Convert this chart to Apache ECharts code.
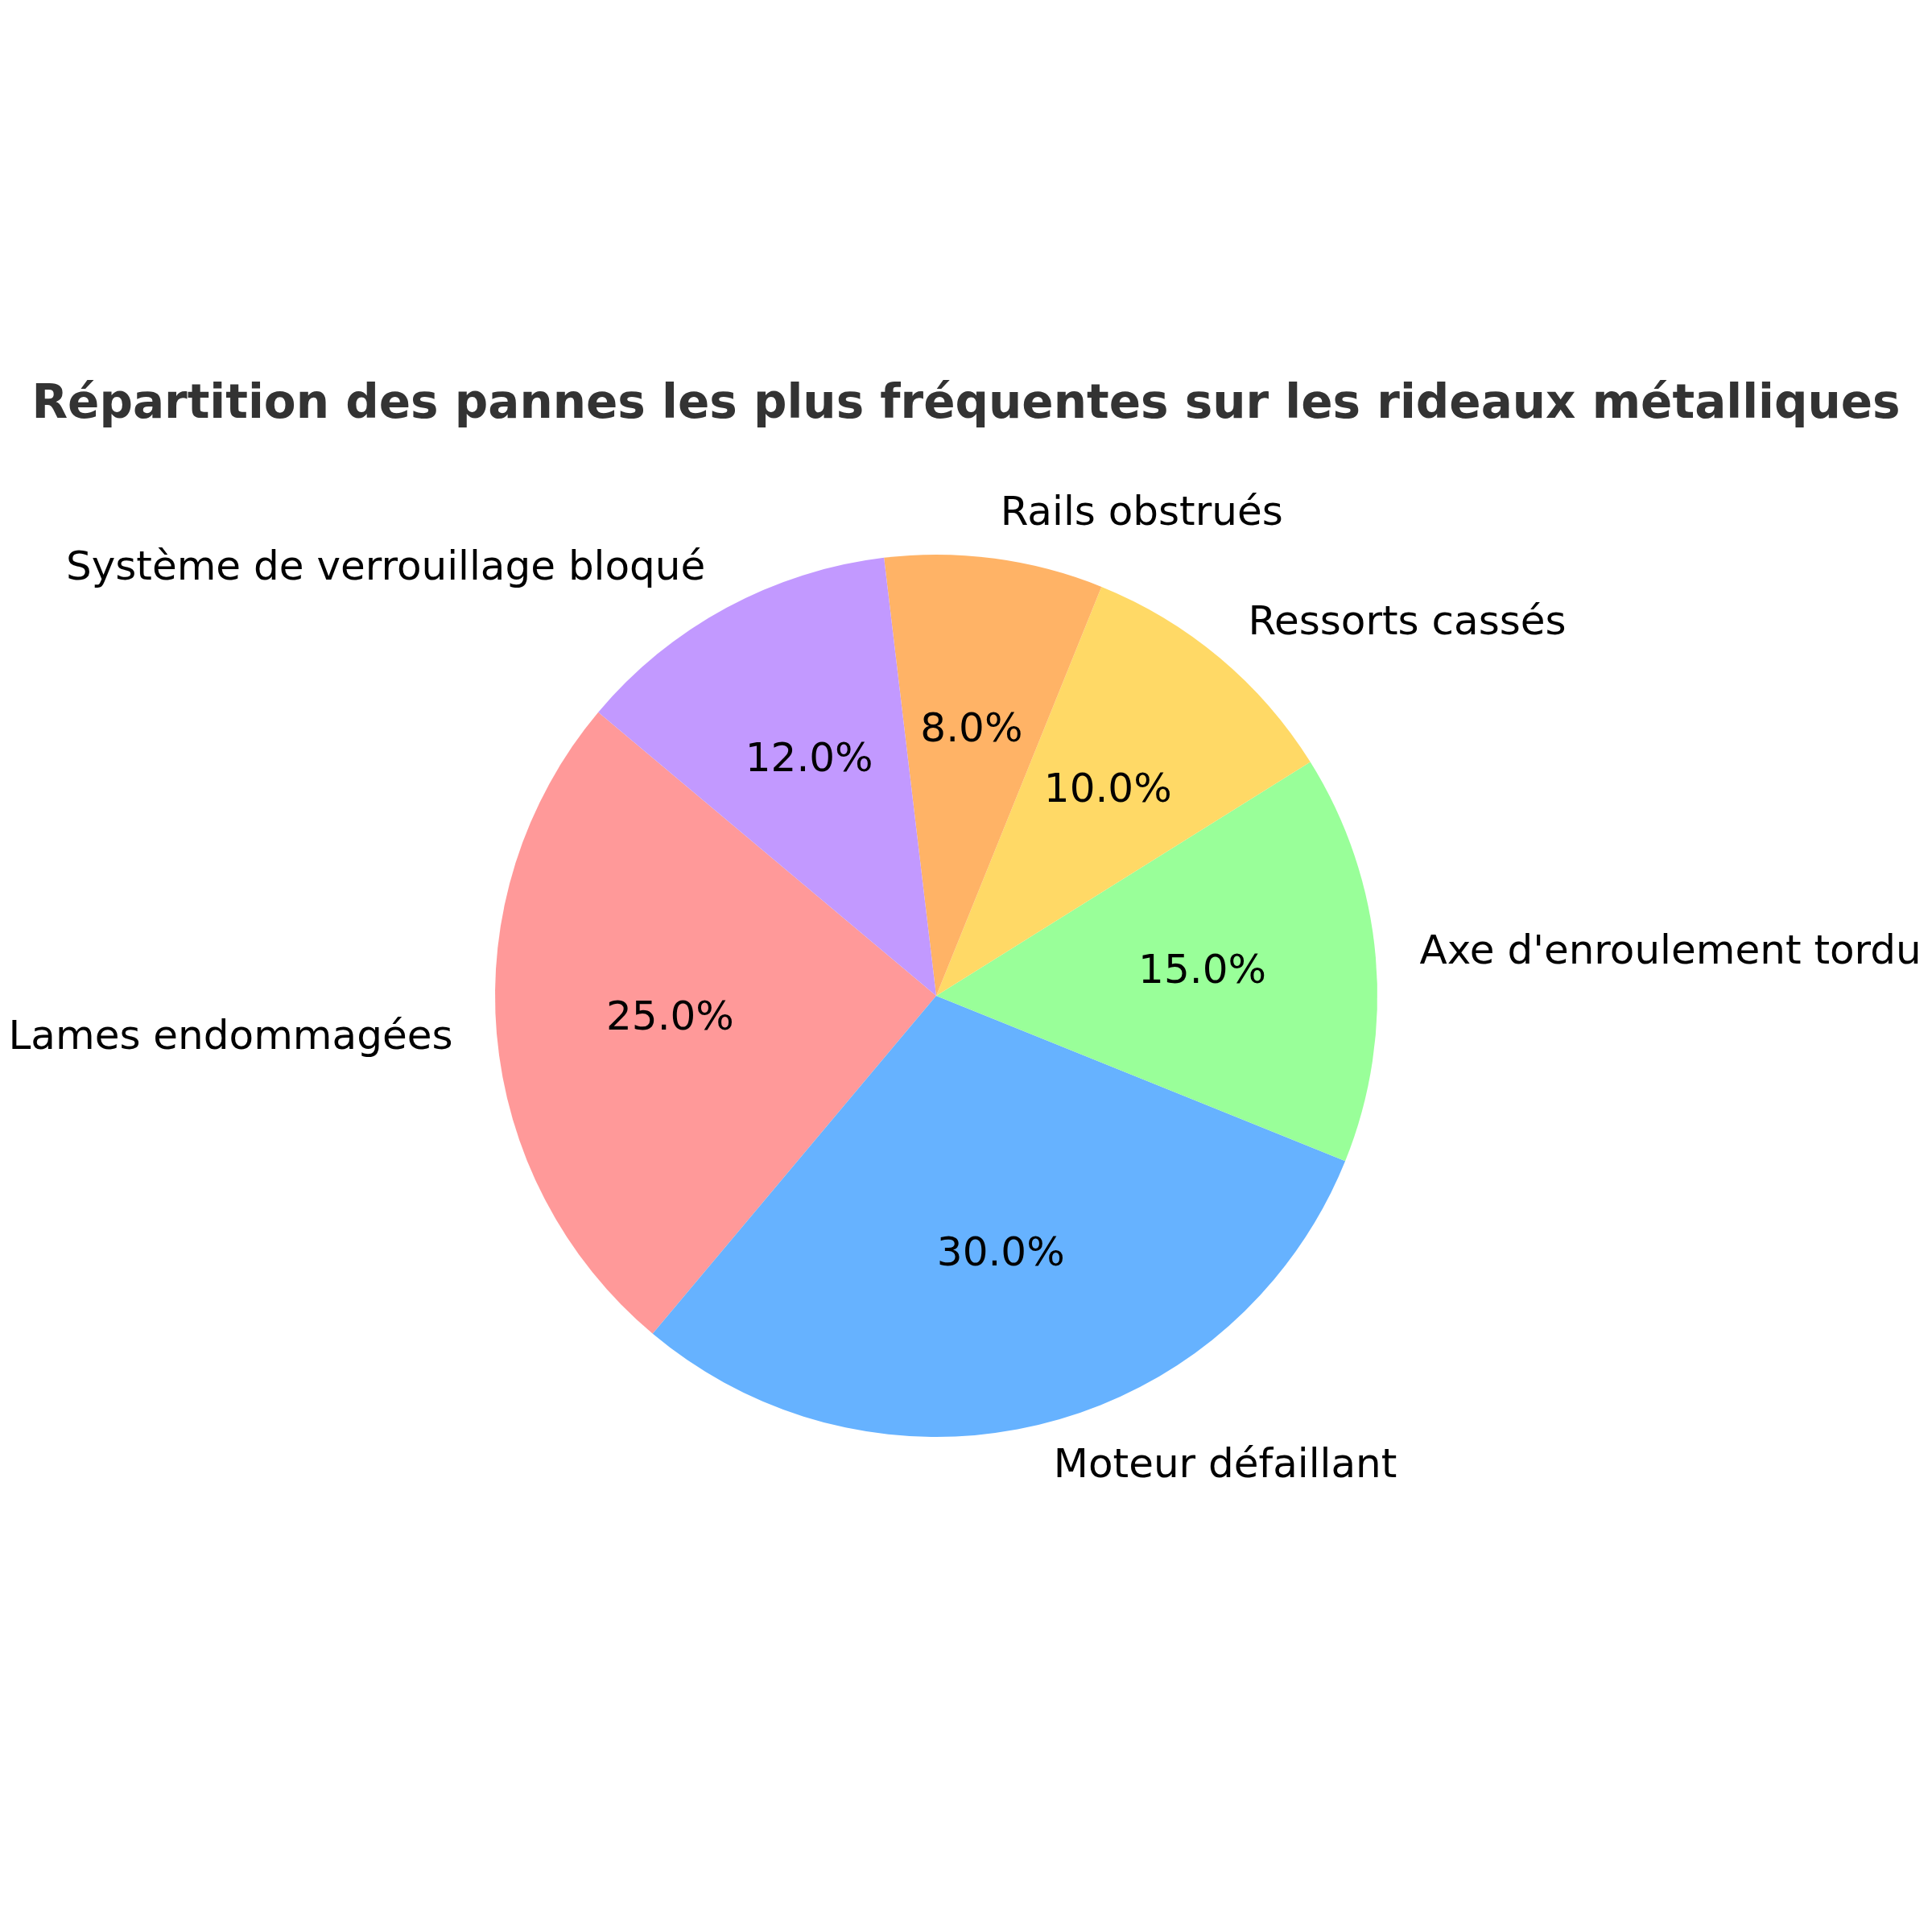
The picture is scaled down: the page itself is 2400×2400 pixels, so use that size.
<!DOCTYPE html>
<html>
<head>
<meta charset="utf-8">
<script src="https://cdn.jsdelivr.net/npm/echarts@6/dist/echarts.min.js"></script>
<style>html,body{margin:0;padding:0;background:#fff}#mybox{width:2400px;height:2400px}</style>
</head>
<body>
<div id="mybox"></div>
<script>
// données
var categories = ['Lames endommagées', 'Moteur défaillant', "Axe d'enroulement tordu", 'Ressorts cassés', 'Rails obstrués', 'Système de verrouillage bloqué'];
var values = [25, 30, 15, 10, 8, 12];
var colors = ['#FF9999', '#66B2FF', '#99FF99', '#FFD966', '#FFB366', '#C299FF'];

var startAngle = 140;
var R = 548;
var center = [1163, 1237];
var total = values.reduce(function (a, b) { return a + b; }, 0);

var mainData = [];
for (var i = 0; i < values.length; i++) {
    mainData.push({ name: categories[i], value: values[i], itemStyle: { color: colors[i] } });
}

var font = 'DejaVu Sans';
var mycharts = echarts.init(document.getElementById('mybox'));
var optionObj = {
    animation: false,
    backgroundColor: '#fff',
    title: {
        text: 'Répartition des pannes les plus fréquentes sur les rideaux métalliques',
        left: 'center',
        top: 470,
        textStyle: { fontFamily: font, fontWeight: 'bold', fontSize: 58, color: '#333' }
    },
    series: [
        {
            type: 'pie', radius: R, center: center, startAngle: startAngle, clockwise: false,
            silent: true, avoidLabelOverlap: false,
            label: {
                show: true, position: 'outside', fontFamily: font, fontSize: 50, color: '#000',
                formatter: '{b}', distanceToLabelLine: 0, overflow: 'none'
            },
            labelLine: { show: false, length: R * 0.1, length2: 0 },
            data: mainData
        },
        {
            type: 'pie', radius: [R * 0.2, R], center: center, startAngle: startAngle, clockwise: false,
            itemStyle: { color: 'transparent' }, silent: true,
            label: {
                show: true, position: 'inside', fontFamily: font, fontSize: 50, color: '#000',
                formatter: function (p) { return (p.value / total * 100).toFixed(1) + '%'; }
            },
            data: mainData.map(function (d) { return { name: d.name, value: d.value }; })
        }
    ]
};
mycharts.setOption(optionObj);
</script>
</body>
</html>
